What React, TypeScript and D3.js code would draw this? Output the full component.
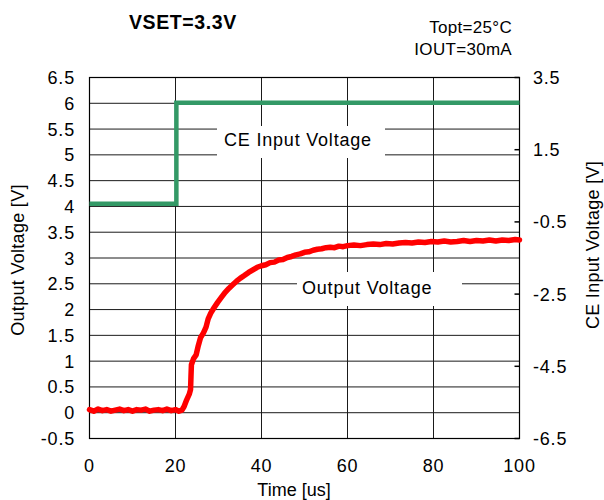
import React from "react";
import * as d3 from "d3";

// ---- Data ----
const xTicks = [0, 20, 40, 60, 80, 100];
const leftTicks = [-0.5, 0, 0.5, 1, 1.5, 2, 2.5, 3, 3.5, 4, 4.5, 5, 5.5, 6, 6.5];
const rightTicks = [3.5, 1.5, -0.5, -2.5, -4.5, -6.5];

// CE input voltage (right axis)
const ceTime = [0, 20.2, 20.2, 100];
const ceVolt = [0.0, 0.0, 2.8, 2.8];

// Output voltage (left axis)
const outTime = [
  0, 1, 2, 3, 4, 5, 6, 7, 8, 9, 10, 11, 12, 13, 14, 15, 16, 17, 18, 19, 20, 20.8, 21.5,
  22.0, 22.6, 23.2, 23.5, 23.6, 23.7, 24.2, 24.8, 25.3, 25.8, 26.5, 27.1, 27.6,
  28.2, 29.0, 29.8, 30.7, 31.5, 32.4, 33.3, 34.2, 35.1, 36.0, 37.0, 38.0, 39.0,
  40.0, 41.0, 42.0, 43.0, 44.0, 45.0, 46.0, 47.0, 48.0, 49.0, 50.0, 51.0, 52.0,
  53.0, 54.0, 55.0, 56.0, 57.0, 58.0, 59.0, 60.0, 61.5, 63.0, 64.5, 66.0, 67.5,
  69.0, 70.5, 72.0, 73.5, 75.0, 76.5, 78.0, 79.5, 81.0, 82.5, 84.0, 85.5, 87.0,
  88.5, 90.0, 91.5, 93.0, 94.5, 96.0, 97.5, 99.0, 100,
];
const outVolt = [
  0.06, 0.03, 0.07, 0.04, 0.06, 0.03, 0.05, 0.07, 0.04, 0.06, 0.03, 0.06, 0.05, 0.07, 0.03, 0.05, 0.06, 0.04, 0.07, 0.04, 0.06, 0.03, 0.05,
  0.12, 0.25, 0.36, 0.45, 0.7, 0.93, 1.05, 1.12, 1.3, 1.45, 1.55, 1.66, 1.82,
  1.93, 2.04, 2.14, 2.24, 2.33, 2.41, 2.48, 2.55, 2.61, 2.66, 2.72, 2.77, 2.82,
  2.85, 2.87, 2.91, 2.92, 2.96, 2.97, 3.01, 3.03, 3.06, 3.08, 3.11, 3.12, 3.15,
  3.17, 3.18, 3.2, 3.21, 3.2, 3.23, 3.22, 3.24, 3.25, 3.24, 3.26, 3.27, 3.26,
  3.28, 3.27, 3.29, 3.3, 3.29, 3.31, 3.3, 3.32, 3.31, 3.33, 3.31, 3.32, 3.34,
  3.32, 3.34, 3.33, 3.35, 3.33, 3.35, 3.34, 3.36, 3.35,
];

const W = 604;
const H = 500;
const X0 = 89.5;
const X1 = 519.5;
const Y0 = 77.5;
const Y1 = 438.5;
const FONT = "'Liberation Sans', Arial, Helvetica, sans-serif";

export default function App() {
  const x = d3.scaleLinear().domain([0, 100]).range([X0, X1]);
  const yL = d3.scaleLinear().domain([-0.5, 6.5]).range([Y1, Y0]);
  const yR = d3.scaleLinear().domain([-6.5, 3.5]).range([Y1, Y0]);

  const outData = outTime.map((t, i) => [t, outVolt[i]] as [number, number]);
  const ceData = ceTime.map((t, i) => [t, ceVolt[i]] as [number, number]);

  const outLine = d3
    .line<[number, number]>()
    .x((d) => x(d[0]))
    .y((d) => yL(d[1]));
  const ceLine = d3
    .line<[number, number]>()
    .x((d) => x(d[0]))
    .y((d) => yR(d[1]));

  const gridColor = "#1a1a1a";
  const fs = 18;
  const ls = 0.8;

  return (
    <div style={{ position: "absolute", left: 0, top: 0 }}>
      <svg width={W} height={H} style={{ display: "block", background: "#fff" }} fontFamily={FONT}>
        {/* horizontal gridlines */}
        {leftTicks.map((v) => (
          <line key={"h" + v} x1={X0} x2={X1} y1={yL(v)} y2={yL(v)} stroke={gridColor} strokeWidth={1} />
        ))}
        {/* vertical gridlines */}
        {xTicks.map((v) => (
          <line key={"v" + v} x1={x(v)} x2={x(v)} y1={Y0} y2={Y1} stroke={gridColor} strokeWidth={1} />
        ))}
        {/* right axis ticks */}
        {rightTicks.map((v) => (
          <line key={"rt" + v} x1={X1 - 5} x2={X1} y1={yR(v)} y2={yR(v)} stroke="#000" strokeWidth={1.5} />
        ))}
        {/* frame */}
        <rect x={X0} y={Y0} width={X1 - X0} height={Y1 - Y0} fill="none" stroke="#000" strokeWidth={1.2} />

        {/* label boxes */}
        <rect x={217} y={126} width={168} height={32} fill="#fff" />
        <rect x={297} y={272} width={165} height={34} fill="#fff" />

        {/* series */}
        <path d={ceLine(ceData) || ""} fill="none" stroke="#339966" strokeWidth={4.5} strokeLinejoin="miter" />
        <path d={outLine(outData) || ""} fill="none" stroke="#ff0000" strokeWidth={5.5} strokeLinejoin="round" strokeLinecap="round" />

        {/* annotations */}
        <text x={224} y={146} fontSize={fs} letterSpacing={ls} fill="#000">CE Input Voltage</text>
        <text x={302} y={294} fontSize={fs} letterSpacing={ls} fill="#000">Output Voltage</text>

        {/* left tick labels */}
        {leftTicks.map((v) => (
          <text key={"lt" + v} x={75} y={yL(v) + 6.5} fontSize={fs} letterSpacing={ls} textAnchor="end" fill="#000">
            {String(v)}
          </text>
        ))}
        {/* right tick labels */}
        {rightTicks.map((v) => (
          <text key={"rl" + v} x={533} y={yR(v) + 6.5} fontSize={fs} letterSpacing={ls} textAnchor="start" fill="#000">
            {String(v)}
          </text>
        ))}
        {/* bottom tick labels */}
        {xTicks.map((v) => (
          <text key={"bl" + v} x={x(v)} y={472} fontSize={fs} letterSpacing={ls} textAnchor="middle" fill="#000">
            {String(v)}
          </text>
        ))}

        {/* axis titles */}
        <text x={294} y={496} fontSize={fs} textAnchor="middle" fill="#000">Time [us]</text>
        <text transform={`translate(24,260) rotate(-90)`} fontSize={fs} letterSpacing={0.3} textAnchor="middle" fill="#000">
          Output Voltage [V]
        </text>
        <text transform={`translate(599,245) rotate(-90)`} fontSize={fs} letterSpacing={0.3} textAnchor="middle" fill="#000">
          CE Input Voltage [V]
        </text>

        {/* titles */}
        <text x={129} y={29} fontSize={19.5} fontWeight="bold" letterSpacing={0.6} fill="#000">VSET=3.3V</text>
        <text x={512} y={33} fontSize={17} letterSpacing={0.3} textAnchor="end" fill="#000">Topt=25°C</text>
        <text x={512} y={55} fontSize={17} letterSpacing={0.3} textAnchor="end" fill="#000">IOUT=30mA</text>
      </svg>
    </div>
  );
}
